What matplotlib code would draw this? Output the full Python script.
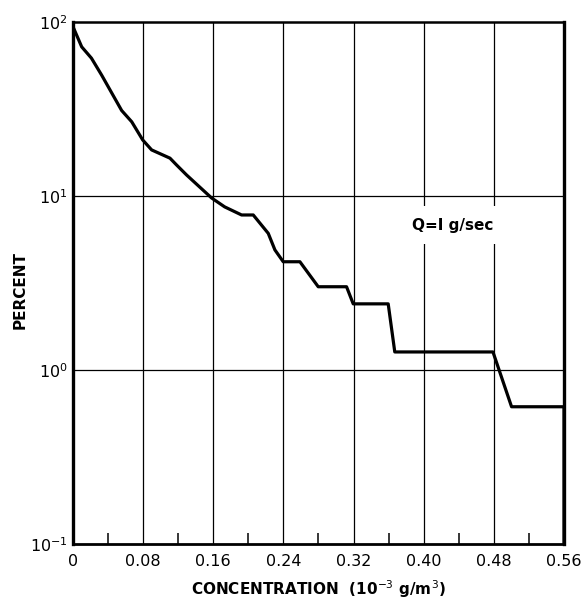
import matplotlib
matplotlib.use("Agg")
import matplotlib.pyplot as plt
from matplotlib.ticker import FixedLocator, NullLocator, FixedFormatter

# Concentration (10^-3 g/m^3) vs. percent of time exceeded
concentration = [0.0, 0.0099, 0.021, 0.0327, 0.0555, 0.067, 0.0795, 0.0897,
                 0.1106, 0.118, 0.1296, 0.158, 0.173, 0.1923, 0.2056, 0.2227,
                 0.2303, 0.2398, 0.2588, 0.2797, 0.312, 0.3196, 0.3595, 0.367,
                 0.479, 0.5002, 0.56, 0.56]
percent = [94, 72, 62, 49.5, 31, 26.7, 21, 18.4,
           16.5, 15.1, 13.2, 9.75, 8.66, 7.78, 7.78, 6.1,
           4.9, 4.19, 4.19, 3.01, 3.01, 2.4, 2.4, 1.27,
           1.27, 0.615, 0.615, 0.1]

x_ticks = [0, 0.08, 0.16, 0.24, 0.32, 0.40, 0.48, 0.56]
x_tick_labels = ["0", "0.08", "0.16", "0.24", "0.32", "0.40", "0.48", "0.56"]
x_minor = [0.04, 0.12, 0.20, 0.28, 0.36, 0.44, 0.52]
y_ticks = [0.1, 1, 10, 100]

fig = plt.figure(figsize=(5.83, 6.01), dpi=100)
ax = fig.add_axes([0.1252, 0.0948, 0.8422, 0.8686])

ax.set_yscale("log")
ax.set_xlim(0, 0.56)
ax.set_ylim(0.1, 100)

ax.plot(concentration, percent, color="black", lw=2.3, solid_joinstyle="round",
        zorder=3)

# grid at every major division
for xv in x_ticks[1:-1]:
    ax.axvline(xv, color="black", lw=0.9, zorder=1)
for yv in [1, 10]:
    ax.axhline(yv, color="black", lw=0.9, zorder=1)

ax.xaxis.set_major_locator(FixedLocator(x_ticks))
ax.xaxis.set_major_formatter(FixedFormatter(x_tick_labels))
ax.xaxis.set_minor_locator(FixedLocator(x_minor))
ax.yaxis.set_major_locator(FixedLocator(y_ticks))
ax.yaxis.set_minor_locator(NullLocator())

ax.tick_params(axis="x", which="major", length=0, pad=7, labelsize=11.5)
ax.tick_params(axis="x", which="minor", direction="in", length=8, width=1.1)
ax.tick_params(axis="y", which="major", length=0, pad=4, labelsize=11.5)

for side, w in [("left", 2.4), ("right", 2.4), ("top", 1.8), ("bottom", 2.0)]:
    ax.spines[side].set_linewidth(w)

ax.text(0.433, 6.8, "Q=I g/sec", ha="center", va="center", fontsize=11,
        fontweight="bold", zorder=4,
        bbox=dict(facecolor="white", edgecolor="none", pad=8))

ax.set_xlabel(r"CONCENTRATION  (10$^{-3}$ g/m$^{3}$)", fontsize=11,
              fontweight="bold", va="center")
ax.set_ylabel("PERCENT", fontsize=11, fontweight="bold", va="center")
ax.xaxis.set_label_coords(0.5, -0.086)
ax.yaxis.set_label_coords(-0.108, 0.487)

fig.savefig("out.png", dpi=100, facecolor="white")
